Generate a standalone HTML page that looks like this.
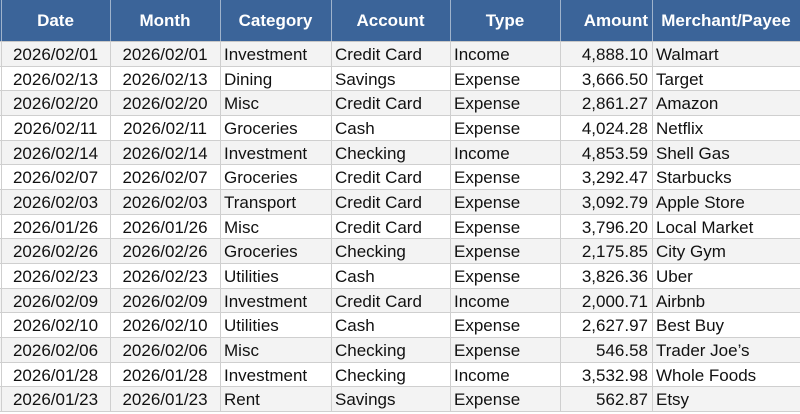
<!DOCTYPE html>
<html><head><meta charset="utf-8">
<style>
html,body{margin:0;padding:0;background:#fff;}
body{width:800px;height:414px;overflow:hidden;position:relative;font-family:"Liberation Sans",sans-serif;}
.hdr{position:absolute;left:0;top:0;width:800px;height:41px;background:#3b6499;}
.row{position:absolute;left:0;width:800px;}
.odd{background:#f3f3f3;}
.c{position:absolute;top:0;height:100%;display:flex;align-items:center;font-size:17px;color:#111;white-space:nowrap;box-sizing:border-box;padding-top:3px;}
.h{color:#fff;font-weight:bold;justify-content:center;padding-top:1px;}
.ctr{justify-content:center;}
.lft{justify-content:flex-start;padding-left:4px;}
.rgt{justify-content:flex-end;padding-right:4px;}
.c1{left:1px;width:109px;}
.c2{left:110px;width:110px;}
.c3{left:220px;width:111px;}
.c4{left:331px;width:119px;}
.c5{left:450px;width:110px;}
.c6{left:560px;width:92px;}
.c7{left:652px;width:148px;}
.vl{position:absolute;width:1px;}
.vh{top:0;height:41px;background:#9fb3cc;}
.vb{top:41px;height:371px;background:#cfcfcf;}
.hl{position:absolute;left:0;width:800px;height:1px;background:#cfcfcf;}
</style></head><body>
<div class="hdr">
<div class="c h c1">Date</div>
<div class="c h c2">Month</div>
<div class="c h c3">Category</div>
<div class="c h c4">Account</div>
<div class="c h c5">Type</div>
<div class="c h rgt c6">Amount</div>
<div class="c h c7">Merchant/Payee</div>
</div>

<div class="row odd" style="top:41px;height:25px"><div class="c ctr c1">2026/02/01</div><div class="c ctr c2">2026/02/01</div><div class="c lft c3">Investment</div><div class="c lft c4">Credit Card</div><div class="c lft c5">Income</div><div class="c rgt c6">4,888.10</div><div class="c lft c7">Walmart</div></div>
<div class="row" style="top:66px;height:24px"><div class="c ctr c1">2026/02/13</div><div class="c ctr c2">2026/02/13</div><div class="c lft c3">Dining</div><div class="c lft c4">Savings</div><div class="c lft c5">Expense</div><div class="c rgt c6">3,666.50</div><div class="c lft c7">Target</div></div>
<div class="row odd" style="top:90px;height:25px"><div class="c ctr c1">2026/02/20</div><div class="c ctr c2">2026/02/20</div><div class="c lft c3">Misc</div><div class="c lft c4">Credit Card</div><div class="c lft c5">Expense</div><div class="c rgt c6">2,861.27</div><div class="c lft c7">Amazon</div></div>
<div class="row" style="top:115px;height:25px"><div class="c ctr c1">2026/02/11</div><div class="c ctr c2">2026/02/11</div><div class="c lft c3">Groceries</div><div class="c lft c4">Cash</div><div class="c lft c5">Expense</div><div class="c rgt c6">4,024.28</div><div class="c lft c7">Netflix</div></div>
<div class="row odd" style="top:140px;height:24px"><div class="c ctr c1">2026/02/14</div><div class="c ctr c2">2026/02/14</div><div class="c lft c3">Investment</div><div class="c lft c4">Checking</div><div class="c lft c5">Income</div><div class="c rgt c6">4,853.59</div><div class="c lft c7">Shell Gas</div></div>
<div class="row" style="top:164px;height:25px"><div class="c ctr c1">2026/02/07</div><div class="c ctr c2">2026/02/07</div><div class="c lft c3">Groceries</div><div class="c lft c4">Credit Card</div><div class="c lft c5">Expense</div><div class="c rgt c6">3,292.47</div><div class="c lft c7">Starbucks</div></div>
<div class="row odd" style="top:189px;height:25px"><div class="c ctr c1">2026/02/03</div><div class="c ctr c2">2026/02/03</div><div class="c lft c3">Transport</div><div class="c lft c4">Credit Card</div><div class="c lft c5">Expense</div><div class="c rgt c6">3,092.79</div><div class="c lft c7">Apple Store</div></div>
<div class="row" style="top:214px;height:24px"><div class="c ctr c1">2026/01/26</div><div class="c ctr c2">2026/01/26</div><div class="c lft c3">Misc</div><div class="c lft c4">Credit Card</div><div class="c lft c5">Expense</div><div class="c rgt c6">3,796.20</div><div class="c lft c7">Local Market</div></div>
<div class="row odd" style="top:238px;height:25px"><div class="c ctr c1">2026/02/26</div><div class="c ctr c2">2026/02/26</div><div class="c lft c3">Groceries</div><div class="c lft c4">Checking</div><div class="c lft c5">Expense</div><div class="c rgt c6">2,175.85</div><div class="c lft c7">City Gym</div></div>
<div class="row" style="top:263px;height:25px"><div class="c ctr c1">2026/02/23</div><div class="c ctr c2">2026/02/23</div><div class="c lft c3">Utilities</div><div class="c lft c4">Cash</div><div class="c lft c5">Expense</div><div class="c rgt c6">3,826.36</div><div class="c lft c7">Uber</div></div>
<div class="row odd" style="top:288px;height:24px"><div class="c ctr c1">2026/02/09</div><div class="c ctr c2">2026/02/09</div><div class="c lft c3">Investment</div><div class="c lft c4">Credit Card</div><div class="c lft c5">Income</div><div class="c rgt c6">2,000.71</div><div class="c lft c7">Airbnb</div></div>
<div class="row" style="top:312px;height:25px"><div class="c ctr c1">2026/02/10</div><div class="c ctr c2">2026/02/10</div><div class="c lft c3">Utilities</div><div class="c lft c4">Cash</div><div class="c lft c5">Expense</div><div class="c rgt c6">2,627.97</div><div class="c lft c7">Best Buy</div></div>
<div class="row odd" style="top:337px;height:25px"><div class="c ctr c1">2026/02/06</div><div class="c ctr c2">2026/02/06</div><div class="c lft c3">Misc</div><div class="c lft c4">Checking</div><div class="c lft c5">Expense</div><div class="c rgt c6">546.58</div><div class="c lft c7">Trader Joe’s</div></div>
<div class="row" style="top:362px;height:24px"><div class="c ctr c1">2026/01/28</div><div class="c ctr c2">2026/01/28</div><div class="c lft c3">Investment</div><div class="c lft c4">Checking</div><div class="c lft c5">Income</div><div class="c rgt c6">3,532.98</div><div class="c lft c7">Whole Foods</div></div>
<div class="row odd" style="top:386px;height:25px"><div class="c ctr c1">2026/01/23</div><div class="c ctr c2">2026/01/23</div><div class="c lft c3">Rent</div><div class="c lft c4">Savings</div><div class="c lft c5">Expense</div><div class="c rgt c6">562.87</div><div class="c lft c7">Etsy</div></div>

<div class="hl" style="top:41px;background:#c8c8c8"></div>
<div class="hl" style="top:66px"></div>
<div class="hl" style="top:90px"></div>
<div class="hl" style="top:115px"></div>
<div class="hl" style="top:140px"></div>
<div class="hl" style="top:164px"></div>
<div class="hl" style="top:189px"></div>
<div class="hl" style="top:214px"></div>
<div class="hl" style="top:238px"></div>
<div class="hl" style="top:263px"></div>
<div class="hl" style="top:288px"></div>
<div class="hl" style="top:312px"></div>
<div class="hl" style="top:337px"></div>
<div class="hl" style="top:362px"></div>
<div class="hl" style="top:386px"></div>
<div class="hl" style="top:411px"></div>

<div class="vl vh" style="left:1px"></div><div class="vl vb" style="left:1px"></div>
<div class="vl vh" style="left:110px"></div><div class="vl vb" style="left:110px"></div>
<div class="vl vh" style="left:220px"></div><div class="vl vb" style="left:220px"></div>
<div class="vl vh" style="left:331px"></div><div class="vl vb" style="left:331px"></div>
<div class="vl vh" style="left:450px"></div><div class="vl vb" style="left:450px"></div>
<div class="vl vh" style="left:560px"></div><div class="vl vb" style="left:560px"></div>
<div class="vl vh" style="left:652px"></div><div class="vl vb" style="left:652px"></div>
</body></html>
